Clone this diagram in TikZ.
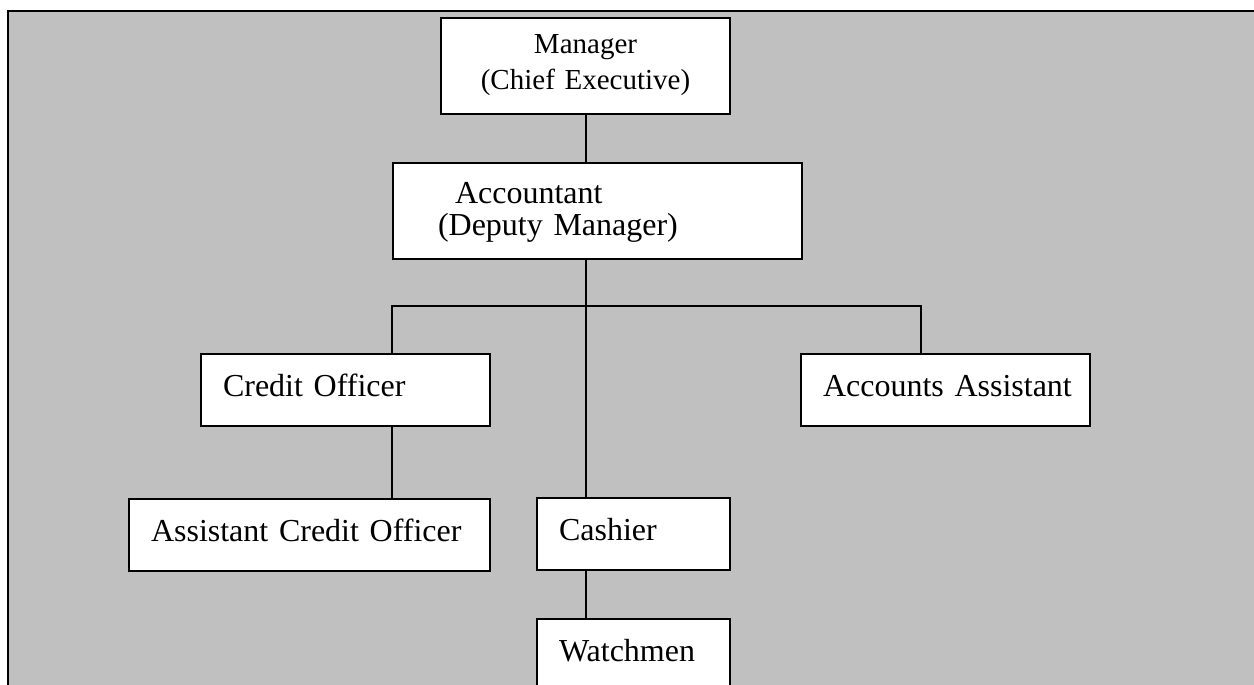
\documentclass[tikz,border=0pt]{standalone}
\usepackage{fontspec}
\setmainfont{Liberation Serif}
\definecolor{framegray}{RGB}{192,192,192}

\begin{document}
\begin{tikzpicture}[x=0.5pt, y=-0.5pt,
    post/.style={draw, fill=white, line width=1pt, anchor=north west, inner xsep=11pt, inner ysep=0pt,
        align=left, text height=21pt, text depth=15pt, font=\fontsize{16}{19}\selectfont},
    link/.style={line width=1pt}]
    \clip (0,0) rectangle (1254,685);
    \draw[fill=framegray, line width=1pt] (7.5,10.5) rectangle (1280,700);
    \node[post, align=center, text width=122.5pt, text height=18pt, text depth=30pt,
        font=\fontsize{14.5}{17.5}\selectfont] (manager) at (440,17) {Manager\\(Chief Executive)};
    \node[post, text width=182.5pt, text height=20pt, text depth=28pt,
        font=\fontsize{16}{16}\selectfont] (accountant) at (392,162) {\hspace*{20pt}Accountant\\\hspace*{11.5pt}(Deputy Manager)};
    \node[post, text width=122.5pt] (credit) at (200,353) {Credit Officer};
    \node[post, text width=122.5pt] (assistant) at (800,353) {\mbox{Accounts Assistant}};
    \node[post, text width=158.5pt] (asstcredit) at (128,498) {Assistant Credit Officer};
    \node[post, text width=74.5pt] (cashier) at (536,497) {Cashier};
    \node[post, text width=74.5pt] (watchmen) at (536,618) {Watchmen};
    % branch points
    \coordinate (lbar) at (392,306);
    \coordinate (rbar) at (921,306);
    \draw[link] (manager.south) -- (manager.south |- accountant.north);
    \draw[link] (accountant.south -| manager.south) -- (cashier.north -| manager.south);
    \draw[link] (credit.north -| lbar) |- (rbar) -- (rbar |- assistant.north);
    \draw[link] (credit.south -| lbar) -- (asstcredit.north -| lbar);
    \draw[link] (cashier.south -| manager.south) -- (watchmen.north -| manager.south);
\end{tikzpicture}
\end{document}
